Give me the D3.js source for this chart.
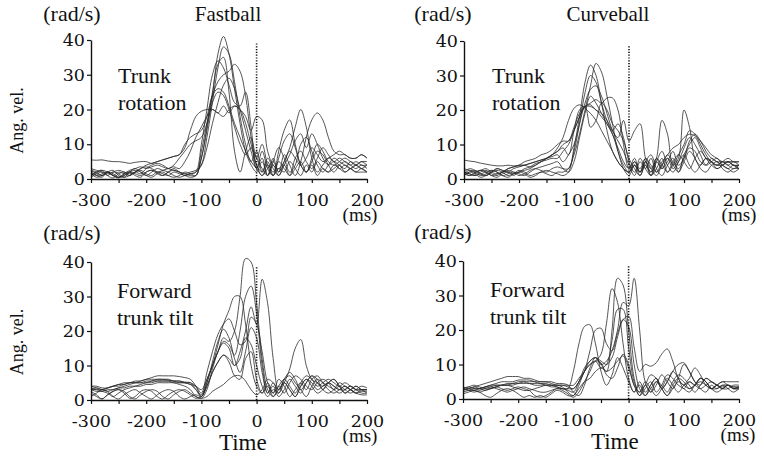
<!DOCTYPE html>
<html><head><meta charset="utf-8">
<script src="https://cdn.jsdelivr.net/npm/d3@7"></script>
<style>
body{margin:0;background:#fff}
svg{display:block}
</style>
</head><body>
<svg id="chart" width="764" height="462"></svg>
<script>
// sampling grid (ms) shared by all traces
const timeMs = d3.range(-300, 201, 10);
const xTickValues = [-300,-250,-200,-150,-100,-50,0,50,100,150,200];
const xTickLabels = ["-300","","-200","","-100","","0","","100","","200"];
const yTickValues = [0,10,20,30,40];
const releaseLine = [0, 39];

const fastballRotation = [
 [2,1,0.5,2,1,0.3,1.5,2,1,0.5, 2,2.5,1.5,1,2,2.5,2,1.5,1,1, 6,14,24,36,41,36,26,16,8,4, 2,5,1,6,2,4,1,3,5,2, 4,1,3,2,4,3,2,3,4,3, 2],
 [2.5,2,1,2,2.5,1,0.5,2,3,2, 1,2,3,2.5,2,1,0.5,1,1.5,2, 4,12,22,32,38,36,28,18,10,5, 8,2,5,1,8,14,17,10,4,2, 6,10,8,5,4,5,6,5,4,5, 4],
 [1,2,2.5,1,0.3,1.5,2,1,2,3, 3.5,3,2,1,2,3,2,1,1.5,2, 10,20,30,34,32,27,22,21,25,15, 3,6,1,4,1,5,9,15,20,15, 6,2,4,6,5,3,4,3,2,3, 2],
 [2.5,1.5,1,2,1.5,0.5,1,2,2.5,2, 1,0.5,1.5,2,1,0.5,1,2,1.5,1, 8,16,24,28,30,31,33,31,24,12, 4,1,3,5,2,7,4,1,5,12, 17,19,17,12,8,7,7,6,6,7, 6],
 [1.5,0.5,1,2,1,2,1.5,1,2,1.5, 3,4,4.5,4,3,2.5,2,1.5,2,2.5, 4,9,16,22,27,29,26,20,14,8, 3,8,3,1,6,11,13,9,4,2, 5,8,7,4,2,4,5,4,3,4, 3],
 [5.5,5.4,5.5,5.2,5,5,4.8,4.5,4.8,5, 5,4.5,5,5.5,6,6.5,7,9,14,18, 19.5,20,20,19,18,20,21,20,18,14, 18,17,8,4,3,5,8,6,4,6, 9,7,5,6,7,8,7,6,6,7, 6],
 [2,1,1.5,2,1,0.5,1,2,1.5,1, 2,2.5,2,2.5,3,3.5,3,5,8,12, 15,18,20,19,21,19,21,20,16,10, 4,2,6,3,1,4,7,11,13,9, 13,10,6,4,5,4,3,5,4,3, 4],
 [0.5,1.5,2,1,2,1.5,0.5,1,2,2.5, 1.5,1,2,1.5,1,2,1.5,1,0.5,1, 6,15,25,33,35,25,8,2,8,12, 6,10,4,1,3,2,5,3,1,4, 2,5,3,2,3,4,2,3,2,2, 2],
 [3,2.5,2,1.5,2,2.5,2,1.5,2,3, 4,4.5,5,5.5,6,6.5,7,10,12,13, 14,18,24,26,25,21,16,12,8,5, 3,1,4,2,5,3,1,6,8,5, 3,6,9,7,5,6,5,4,5,4, 4],
 [1,2,2.5,2,1,0.5,1.5,2.5,3,3.5, 3,3.5,4,3.5,3,4,6,8,10,11, 12,16,22,25,24,20,15,10,7,9, 6,3,1,5,9,6,2,4,10,12, 8,4,2,4,6,5,4,3,4,5, 5]
];

const curveballRotation = [
 [2,1,1.5,2.5,2,1,0.5,1.5,2,1, 2,1.5,0.5,1,2,1.5,1,2,2,3, 7,13,20,27,33.5,31,24,16,8,4, 2,5,2,6,3,1,4,6,3,5, 7,4,2,4,6,5,3,4,5,4, 3],
 [1.5,2.5,2,1,1.5,2.5,2,1,0.5,1.5, 2.5,2,1,1.5,2,2.5,2,1.5,1,2, 9,18,28,33,30,22,14,8,5,3, 2,4,1,5,7,3,1,4,6,2, 5,8,6,3,2,4,5,3,2,3, 3],
 [2,1.5,1,2,2.5,1.5,1,2,2.5,2, 1,1.5,2.5,3,2.5,2,3,3.5,3,3, 8,16,25,30,28,22,17,14,16,12, 5,2,6,3,1,5,8,4,2,5, 9,12,10,7,4,5,6,4,3,4, 3],
 [1,2,2.5,1.5,1,2,3,2.5,2,3, 3.5,4,4.5,5,5.5,6,6.5,7,5,7, 10,16,22,26,27,24,19,14,11,8, 4,1,5,3,6,2,4,7,5,3, 6,9,8,5,4,6,5,5,4,5, 4],
 [3,2.5,2,2.5,3,2,1.5,2,3,3.5, 4,4,3.5,4,5,5.5,6,6,8,10, 14,18,21,22,23,22,23.5,23.5,20,10, 3,6,2,4,1,5,3,6,4,2, 7,10,12,9,6,5,4,5,6,5, 5],
 [5.5,5.2,5,4.6,4.3,4,3.8,3.8,4,3.8, 3.8,4,4.5,5,5.5,6,7,9,12,17, 20.5,21.5,20.5,19,17,14,11,8,5,3, 2,4,2,5,3,6,4,2,5,7, 5,3,6,8,6,4,3,4,5,4, 4],
 [1,2,1.5,0.5,1,2,2.5,2,1,1.5, 2,2.5,3,4,5,6,7,8,9,7, 14,20,21,15,17,22,20,16,14,11, 6,3,1,4,2,6,3,5,8,4, 6,11,13,11,8,6,5,4,3,2, 3],
 [2,3,2.5,1.5,1,2,3,2.5,2,1.5, 2,3,3.5,4.5,5,6,7,8,10,11, 14,18,21,21.5,20,19,17,14,12,17, 11,14,16,6,2,6,17,13,4,6, 20,15,6,4,6,5,4,5,4,3, 4],
 [1.5,1,2,2.5,2,1,1.5,2,3,3.5, 4,5,5.5,6,7,7.5,8.5,10,11,11, 15,19,21,21,20,18,16,13,9,5, 3,5,3,6,4,2,5,7,9,10, 12,13,12.5,11,9,7,6,5,5,4, 4],
 [2,1.5,1,1.5,2,2.5,2,1,1.5,2, 1.5,1,2,3,3.5,4,4.5,5,3,2, 5,12,19,24,22,19,16,13,8,3, 1,4,2,5,1,3,6,2,4,7, 10,14,13,10,7,5,4,4,5,5, 5]
];

const fastballTilt = [
 [3,3.5,3,2.5,3,3.5,4,4.5,5,5.5, 6,6.5,7,7,7,7,6.8,6.5,6,4, 1,5,10,14,18,17,20,30,41,40, 28,12,3,1,4,6,4,2,5,7, 6,4,5,6,5,4,5,4,3,3, 3],
 [4,3.5,3,3.5,4,4.5,5,5,5.5,5.5, 6,6,6,6,5.8,5.5,5.5,5.2,5,3, 1,4,8,11,13,12,10,14,20,27, 22,35,28,12,3,5,3,1,4,6, 5,3,4,5,4,3,4,3,4,3, 3],
 [3,3,2.5,2,1,2,3,3.5,4,4.5, 5,5,5.5,5.5,5.5,5.5,5,5,4.5,3, 1.5,6,10,16,22,26,30,30,22,10, 4,2,5,2,6,4,1,3,5,3, 6,7,5,3,2,3,4,3,2,2.5, 2.5],
 [2,1,0.3,1.5,2.5,3,2.5,1,0.3,1.5, 2.5,3,2.5,1,0.3,1.5,2.5,3,2,1, 0.5,3,9,14,17,16,13,20,30,33, 25,10,2,5,2,6,7,5,3,1, 4,6,5,4,3,2,3,4,3,2, 2],
 [3.5,3,3,3.5,4,4,4.5,5,5,5, 5.5,5.5,6,6,6,5.5,5.5,5,5,4, 2,8,14,19,22,23.5,20,16,17,24, 22,14,5,2,4,2,5,7,6,4, 3,5,6,5,3,4,3,2,3,4, 3.5],
 [1,2,3,2.5,1,0.3,1.5,2.5,3,2, 1,0.3,1.5,2.5,3,2.5,1,0.3,1,1.5, 1,5,11,17,20.5,18,12,8,14,21, 18,8,2,4,1,3,6,4,2,5, 7,5,3,2,3,5,4,3,2,3, 3],
 [4,4,3.5,3.5,4,4.5,4.5,5,5,5, 5,5.5,5.5,5.5,5.5,5,5,5,4.5,4, 3,6,10,14,16.5,15,10,12,18,16, 10,4,1,3,2,5,9,15,17.5,10, 6,5,4,5,4,3,3,4,3,3, 3],
 [2.5,1.5,0.3,1.5,2.5,3,2,0.5,1,2.5, 3,2.5,1,0.3,1.5,2.5,3,2.5,1.5,0.5, 1,4,8,11,13,11,7,6,12,14, 6,2,4,1,3,5,3,1,4,6, 4,2,3,5,6,4,2,3,2,1.5, 1.5],
 [3,2.5,2.5,3,3,3.5,3.5,4,4,4, 4.5,4.5,5,5,5,5,4.5,4,3,1, 0.5,1,2.5,3.5,4.5,6,7,7,5.5,3, 1.5,3,6,5,3,6,8,6,3,5, 7,6,3,5,6,4,2,3,4,3, 2]
];

const curveballTilt = [
 [3.5,3,3.5,4,4.5,5,5.5,6,6.5,6.5, 6.5,6,6,5.5,5,5,5,4.5,4.5,4, 2,1,4,9,12,10,8,20,35,33, 20,6,1,4,2,5,3,1,4,6, 5,3,4,5,4,3,3,4,4,3, 3],
 [3,3.5,3,3,3.5,4,4.5,5,5,5, 5.5,5.5,5.5,5,5,5,4.5,4,4,3.5, 3,5,8,11,12,10,11,14,20,28, 27,35,20,5,2,4,7,5,3,6, 10,8,5,3,2,4,3,4,3,2, 3],
 [2.5,3,3.5,3,2.5,3,3.5,4,4,4.5, 4.5,5,5,5,4.5,4.5,4,4,3.5,2, 1,4,8,10,11,13,22,32,28,16, 6,2,5,2,4,6,3,1,3,5, 4,3,4,6,5,3,4,3,4,3, 3.5],
 [3,2.5,2.5,3,3.5,4,4,4,4.5,4.5, 5,5,4.5,4.5,4.5,4,4,4,4,4, 4,6,8,10,11,9,10,17,26,26, 15,5,2,5,3,1,3,6,4,2, 4,6,9,7,4,3,4,5,4,3, 3.5],
 [2,2.5,3,3,3.5,3.5,4,4,4,4, 4.5,4.5,4.5,4,4,4,3.5,3.5,3,2.5, 2,5,9,11,12,11,10,12,18,23, 24,15,8,10,9.5,10.5,13,14.5,11,6, 4,5,4,3,4,5,4,3,4,3.5, 3.5],
 [3,2.5,2,2.5,3,3.5,3,2.5,2,2.5, 3,3.5,3,2.5,2,2,2.5,3,3,3, 8,16,21,21.5,16,8,4,7,12,9, 5,2,4,1,3,5,4,2,5,7, 6,4,2,4,6,5,4,3,3,4, 4],
 [3,3.5,4,3.5,3,3,3.5,4,4,3.5, 3,2.5,2.5,3,3.5,4,4,3.5,3,3, 3,5,8,14,20,20.5,16,14,19,23, 21,10,3,1,4,6,3,5,8,6, 3,5,4,6,5,3,4,5,5,5, 5],
 [1.5,2,2.5,2,1,0.5,1.5,2.5,3,2.5, 1.5,0.5,1,0.5,1,0.5,1.5,2.5,2,1, 1,3,5,6,8,9,8,9,11,12.5, 9,4,1,3,5,2,4,7,6,4, 3,2,4,6,5,3,2,3,4,3, 3],
 [2.5,3,2.5,2,2.5,3,3.5,3,2.5,3, 3.5,3,2.5,1,0.5,1,2,3,2.5,1.5, 0.5,2,5,8,11,10.5,7,6,9,13, 10,4,2,4,7,6,3,5,8,10, 10.5,8,5,4,6,5,4,3.5,4,3.5, 3.5]
];

const panels = [
  {id: "a", data: fastballRotation, title: "Fastball", label: ["Trunk", "rotation"], x0: 91, x1: 367, yb: 179, yt: 40, unitX: 72, unitY: 21, titleX: 228, labelX: 118, labelY: 83, msX: 360, yLabel: true, time: false},
  {id: "b", data: curveballRotation, title: "Curveball", label: ["Trunk", "rotation"], x0: 464, x1: 739, yb: 179, yt: 41, unitX: 443, unitY: 21, titleX: 608, labelX: 492, labelY: 83, msX: 739, yLabel: false, time: false},
  {id: "c", data: fastballTilt, title: null, label: ["Forward", "trunk tilt"], x0: 91, x1: 367, yb: 400, yt: 262, unitX: 72, unitY: 240, titleX: 0, labelX: 117, labelY: 298, msX: 360, yLabel: true, time: true},
  {id: "d", data: curveballTilt, title: null, label: ["Forward", "trunk tilt"], x0: 463, x1: 739, yb: 399, yt: 261, unitX: 443, unitY: 239, titleX: 0, labelX: 490, labelY: 297, msX: 738, yLabel: false, time: true}
];

const FONT = '"Liberation Serif", "Times New Roman", Times, serif';
const NUMFONT = '"DejaVu Serif", "Liberation Serif", serif';
const svg = d3.select("#chart");
svg.append("rect").attr("width", 764).attr("height", 462).attr("fill", "#fff");
const defs = svg.append("defs");

function addText(g, x, y, str, size, anchor, fam) {
  return g.append("text").attr("x", x).attr("y", y)
    .attr("text-anchor", anchor || "start")
    .style("font-family", fam || FONT).style("font-size", size + "px").style("fill", "#111")
    .text(str);
}

panels.forEach(p => {
  const x = d3.scaleLinear().domain([-300, 200]).range([p.x0, p.x1]);
  const y = d3.scaleLinear().domain([0, 40]).range([p.yb, p.yt]);
  const g = svg.append("g");

  defs.append("clipPath").attr("id", "clip-" + p.id)
    .append("rect").attr("x", p.x0).attr("y", p.yt - 20)
    .attr("width", p.x1 - p.x0 + 2).attr("height", p.yb - p.yt + 20);

  const line = d3.line()
    .x((d, i) => x(timeMs[i]))
    .y(d => y(d))
    .curve(d3.curveCatmullRom.alpha(0.5));

  g.append("g").attr("clip-path", `url(#clip-${p.id})`)
    .selectAll("path").data(p.data).join("path")
    .attr("d", line)
    .attr("fill", "none")
    .attr("stroke", "#2a2a2a")
    .attr("stroke-width", 0.8);

  // release (0 ms) dotted line
  g.append("line")
    .attr("x1", x(0)).attr("x2", x(0))
    .attr("y1", y(releaseLine[0])).attr("y2", y(releaseLine[1]))
    .attr("stroke", "#111").attr("stroke-width", 1.6)
    .attr("stroke-dasharray", "1.2,1.6");

  const xAxis = d3.axisBottom(x).tickValues(xTickValues)
    .tickFormat((d, i) => xTickLabels[i])
    .tickSize(4).tickSizeOuter(0).tickPadding(10.5);
  const xa = g.append("g").attr("transform", `translate(0,${p.yb})`).call(xAxis);
  xa.select(".domain").attr("stroke", "#111").attr("stroke-width", 1.6);
  xa.selectAll(".tick line").attr("stroke", "#111").attr("stroke-width", 1.2);
  xa.selectAll("text").style("font-size", "17.5px").style("font-family", NUMFONT).style("fill", "#111");

  const yAxis = d3.axisLeft(y).tickValues(yTickValues).tickSize(4).tickSizeOuter(0).tickPadding(2);
  const ya = g.append("g").attr("transform", `translate(${p.x0},0)`).call(yAxis);
  ya.select(".domain").attr("stroke", "#111").attr("stroke-width", 1.4);
  ya.selectAll(".tick line").attr("stroke", "#111").attr("stroke-width", 1.2);
  ya.selectAll("text").style("font-size", "17.5px").style("font-family", NUMFONT).style("fill", "#111");

  addText(g, p.unitX, p.unitY, "(rad/s)", 22, "middle");
  if (p.title) addText(g, p.titleX, p.unitY, p.title, 21, "middle");
  addText(g, p.labelX, p.labelY, p.label[0], 22);
  addText(g, p.labelX, p.labelY + 27, p.label[1], 22);
  addText(g, p.msX, p.yb + 42, "(ms)", 19, "middle");
  if (p.yLabel) {
    const cy = (p.yb + p.yt) / 2 + 11;
    g.append("text").attr("transform", `translate(23,${cy}) rotate(-90)`)
      .attr("text-anchor", "middle")
      .style("font-family", FONT).style("font-size", "18px").style("fill", "#111")
      .text("Ang. vel.");
  }
  if (p.time) addText(g, x(-25), p.yb + 50, "Time", 23, "middle");
});
</script>
</body></html>
